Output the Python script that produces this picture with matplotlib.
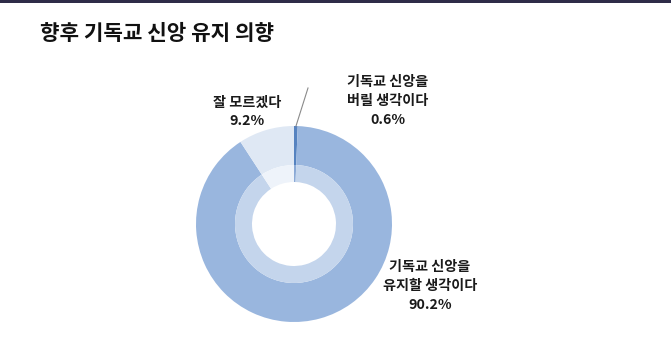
import matplotlib
matplotlib.use("Agg")
import matplotlib.pyplot as plt
from matplotlib.lines import Line2D
from matplotlib.patches import Rectangle

plt.rcParams['font.family'] = ['Noto Sans CJK KR', 'DejaVu Sans']

title = "향후 기독교 신앙 유지 의향"
categories = ["기독교 신앙을\n버릴 생각이다", "기독교 신앙을\n유지할 생각이다", "잘 모르겠다"]
values = [0.6, 90.2, 9.2]
outer_colors = ["#5683c0", "#99b6de", "#dfe8f4"]
inner_colors = ["#8aa9d6", "#c4d5ec", "#eef3fa"]

W, H = 671, 358
fig = plt.figure(figsize=(W / 100, H / 100), dpi=100)
fig.patch.set_facecolor("white")

def fx(x):
    return x / W

def fy(y):
    return 1 - y / H

# top dark bar
fig.add_artist(Rectangle((0, fy(3)), 1, 3 / H, transform=fig.transFigure,
                         color="#2e2c48", lw=0))

# title
fig.text(fx(40), fy(34), title, fontsize=15.3, fontweight="bold",
         ha="left", va="center", color="#111111")

# donut
cx, cy, R = 294, 224, 98
ax = fig.add_axes([fx(cx - R), fy(cy + R), 2 * R / W, 2 * R / H])
r_mid = 59 / R
r_in = 42 / R
ax.pie(values, radius=1, startangle=90, counterclock=False,
       colors=outer_colors, wedgeprops=dict(width=1 - r_mid, lw=0))
ax.pie(values, radius=r_mid, startangle=90, counterclock=False,
       colors=inner_colors, wedgeprops=dict(width=r_mid - r_in, lw=0))
ax.set_xlim(-1, 1)
ax.set_ylim(-1, 1)
ax.set_aspect("equal")
ax.axis("off")

def label(x, y, cat, val):
    fig.text(fx(x), fy(y), f"{cat}\n{val}%", fontsize=10.2, fontweight="bold",
             ha="center", va="center", color="#1a1a1a", linespacing=1.45)

label(388, 101, categories[0], values[0])
label(430, 286, categories[1], values[1])
label(247, 112, categories[2], values[2])

# leader line
fig.add_artist(Line2D([fx(296), fx(308)], [fy(126), fy(88)],
                      transform=fig.transFigure, color="#8a8a8a", lw=0.8))

fig.savefig("out.png", dpi=100, facecolor="white")
